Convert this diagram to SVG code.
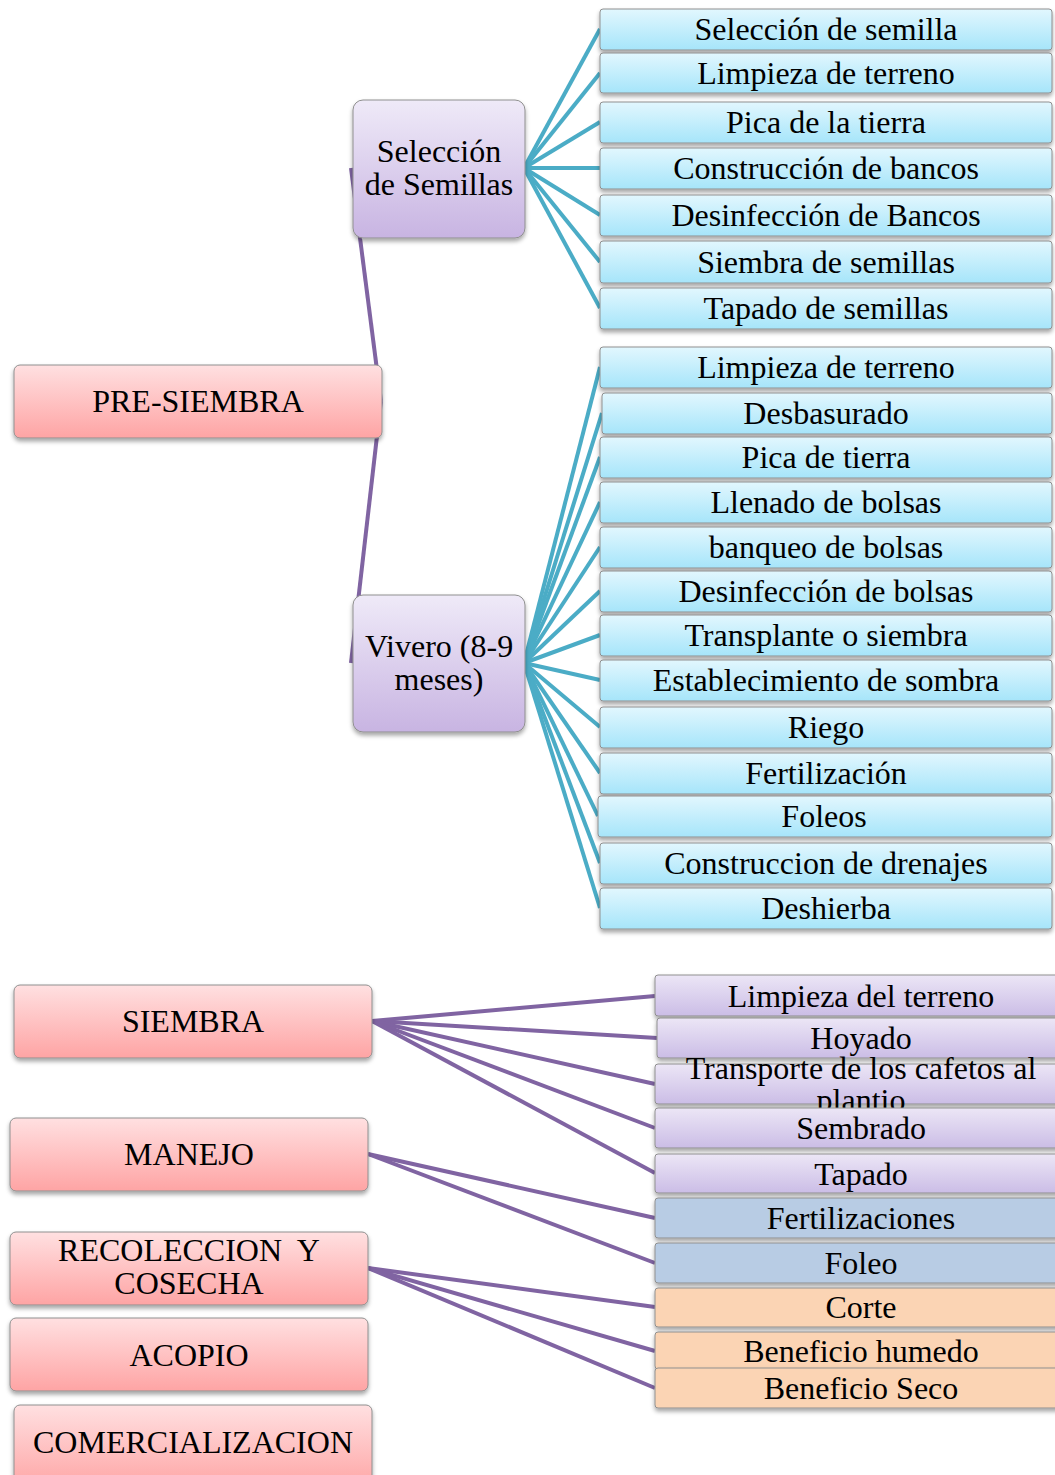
<svg xmlns="http://www.w3.org/2000/svg" width="1055" height="1475" viewBox="0 0 1055 1475">
<defs>
<linearGradient id="gPink" x1="0" y1="0" x2="0" y2="1"><stop offset="0" stop-color="#ffe0e1"/><stop offset="1" stop-color="#fea4a4"/></linearGradient>
<linearGradient id="gPurple" x1="0" y1="0" x2="0" y2="1"><stop offset="0" stop-color="#efeaf8"/><stop offset="1" stop-color="#c8b4e2"/></linearGradient>
<linearGradient id="gBlue" x1="0" y1="0" x2="0" y2="1"><stop offset="0" stop-color="#e2f7fe"/><stop offset="1" stop-color="#a6e5fa"/></linearGradient>
<linearGradient id="gLav" x1="0" y1="0" x2="0" y2="1"><stop offset="0" stop-color="#ece6f6"/><stop offset="1" stop-color="#cbbde6"/></linearGradient>
<filter id="sh" x="-10%" y="-20%" width="120%" height="160%"><feDropShadow dx="0" dy="3" stdDeviation="2" flood-color="#000" flood-opacity="0.35"/></filter>
</defs>
<style>
.t{font-family:'Liberation Serif','Times New Roman',serif;font-size:32px;fill:#000;text-anchor:middle}
.pink{fill:url(#gPink);stroke:#8f8f8f;stroke-width:1;filter:url(#sh)}
.purp{fill:url(#gPurple);stroke:#8f8f8f;stroke-width:1;filter:url(#sh)}
.blue{fill:url(#gBlue);stroke:#8f8f8f;stroke-width:1;filter:url(#sh)}
.lav{fill:url(#gLav);stroke:#8f8f8f;stroke-width:1;filter:url(#sh)}
.gb{fill:#b8cce4;stroke:#8f8f8f;stroke-width:1;filter:url(#sh)}
.pe{fill:#fbd4b4;stroke:#8f8f8f;stroke-width:1;filter:url(#sh)}
.cb{stroke:#4bacc6;stroke-width:4;fill:none}
.cp{stroke:#8064a2;stroke-width:4;fill:none}
</style>
<g id="connectors">
<line class="cp" x1="381" y1="401" x2="351" y2="168"/>
<line class="cp" x1="381" y1="401" x2="351" y2="663"/>
<line class="cb" x1="524" y1="168" x2="600" y2="29"/>
<line class="cb" x1="524" y1="168" x2="600" y2="73"/>
<line class="cb" x1="524" y1="168" x2="600" y2="122"/>
<line class="cb" x1="524" y1="168" x2="600" y2="168"/>
<line class="cb" x1="524" y1="168" x2="600" y2="215"/>
<line class="cb" x1="524" y1="168" x2="600" y2="262"/>
<line class="cb" x1="524" y1="168" x2="600" y2="308"/>
<line class="cb" x1="524" y1="663" x2="600" y2="367"/>
<line class="cb" x1="524" y1="663" x2="602" y2="413"/>
<line class="cb" x1="524" y1="663" x2="600" y2="457"/>
<line class="cb" x1="524" y1="663" x2="600" y2="502"/>
<line class="cb" x1="524" y1="663" x2="600" y2="547"/>
<line class="cb" x1="524" y1="663" x2="600" y2="591"/>
<line class="cb" x1="524" y1="663" x2="600" y2="635"/>
<line class="cb" x1="524" y1="663" x2="600" y2="680"/>
<line class="cb" x1="524" y1="663" x2="600" y2="727"/>
<line class="cb" x1="524" y1="663" x2="600" y2="773"/>
<line class="cb" x1="524" y1="663" x2="598" y2="816"/>
<line class="cb" x1="524" y1="663" x2="600" y2="863"/>
<line class="cb" x1="524" y1="663" x2="600" y2="908"/>
<line class="cp" x1="372" y1="1021" x2="655" y2="996"/>
<line class="cp" x1="372" y1="1021" x2="657" y2="1038"/>
<line class="cp" x1="372" y1="1021" x2="655" y2="1084"/>
<line class="cp" x1="372" y1="1021" x2="655" y2="1128"/>
<line class="cp" x1="372" y1="1021" x2="655" y2="1173"/>
<line class="cp" x1="368" y1="1154" x2="655" y2="1218"/>
<line class="cp" x1="368" y1="1154" x2="655" y2="1263"/>
<line class="cp" x1="368" y1="1268" x2="655" y2="1307"/>
<line class="cp" x1="368" y1="1268" x2="655" y2="1351"/>
<line class="cp" x1="368" y1="1268" x2="655" y2="1388"/>
</g>
<g id="n-presiembra"><rect class="pink" x="14" y="365" width="368" height="73" rx="6"/><text class="t" x="198" y="412">PRE-SIEMBRA</text></g>
<g id="n-seleccion"><rect class="purp" x="353" y="100" width="172" height="138" rx="10"/><text class="t" x="439" y="162">Selección</text><text class="t" x="439" y="195">de Semillas</text></g>
<g id="n-vivero"><rect class="purp" x="353" y="595" width="172" height="137" rx="10"/><text class="t" x="439" y="657">Vivero (8-9</text><text class="t" x="439" y="690">meses)</text></g>
<g id="n-s1"><rect class="blue" x="600" y="9" width="452" height="41" rx="3"/><text class="t" x="826" y="40">Selección de semilla</text></g>
<g id="n-s2"><rect class="blue" x="600" y="53" width="452" height="40" rx="3"/><text class="t" x="826" y="84">Limpieza de terreno</text></g>
<g id="n-s3"><rect class="blue" x="600" y="102" width="452" height="41" rx="3"/><text class="t" x="826" y="133">Pica de la tierra</text></g>
<g id="n-s4"><rect class="blue" x="600" y="148" width="452" height="41" rx="3"/><text class="t" x="826" y="179">Construcción de bancos</text></g>
<g id="n-s5"><rect class="blue" x="600" y="195" width="452" height="41" rx="3"/><text class="t" x="826" y="226">Desinfección de Bancos</text></g>
<g id="n-s6"><rect class="blue" x="600" y="241" width="452" height="42" rx="3"/><text class="t" x="826" y="273">Siembra de semillas</text></g>
<g id="n-s7"><rect class="blue" x="600" y="288" width="452" height="41" rx="3"/><text class="t" x="826" y="319">Tapado de semillas</text></g>
<g id="n-v1"><rect class="blue" x="600" y="347" width="452" height="41" rx="3"/><text class="t" x="826" y="378">Limpieza de terreno</text></g>
<g id="n-v2"><rect class="blue" x="602" y="393" width="450" height="41" rx="3"/><text class="t" x="826" y="424">Desbasurado</text></g>
<g id="n-v3"><rect class="blue" x="600" y="437" width="452" height="41" rx="3"/><text class="t" x="826" y="468">Pica de tierra</text></g>
<g id="n-v4"><rect class="blue" x="600" y="482" width="452" height="41" rx="3"/><text class="t" x="826" y="513">Llenado de bolsas</text></g>
<g id="n-v5"><rect class="blue" x="600" y="527" width="452" height="41" rx="3"/><text class="t" x="826" y="558">banqueo de bolsas</text></g>
<g id="n-v6"><rect class="blue" x="600" y="571" width="452" height="41" rx="3"/><text class="t" x="826" y="602">Desinfección de bolsas</text></g>
<g id="n-v7"><rect class="blue" x="600" y="615" width="452" height="41" rx="3"/><text class="t" x="826" y="646">Transplante o siembra</text></g>
<g id="n-v8"><rect class="blue" x="600" y="660" width="452" height="41" rx="3"/><text class="t" x="826" y="691">Establecimiento de sombra</text></g>
<g id="n-v9"><rect class="blue" x="600" y="707" width="452" height="41" rx="3"/><text class="t" x="826" y="738">Riego</text></g>
<g id="n-v10"><rect class="blue" x="600" y="753" width="452" height="41" rx="3"/><text class="t" x="826" y="784">Fertilización</text></g>
<g id="n-v11"><rect class="blue" x="598" y="796" width="454" height="41" rx="3"/><text class="t" x="824" y="827">Foleos</text></g>
<g id="n-v12"><rect class="blue" x="600" y="843" width="452" height="41" rx="3"/><text class="t" x="826" y="874">Construccion de drenajes</text></g>
<g id="n-v13"><rect class="blue" x="600" y="888" width="452" height="41" rx="3"/><text class="t" x="826" y="919">Deshierba</text></g>
<g id="n-siembra"><rect class="pink" x="14" y="985" width="358" height="73" rx="6"/><text class="t" x="193" y="1032">SIEMBRA</text></g>
<g id="n-manejo"><rect class="pink" x="10" y="1118" width="358" height="73" rx="6"/><text class="t" x="189" y="1165">MANEJO</text></g>
<g id="n-recoleccion"><rect class="pink" x="10" y="1232" width="358" height="73" rx="6"/><text class="t" x="189" y="1261" xml:space="preserve">RECOLECCION  Y</text><text class="t" x="189" y="1294">COSECHA</text></g>
<g id="n-acopio"><rect class="pink" x="10" y="1318" width="358" height="73" rx="6"/><text class="t" x="189" y="1366">ACOPIO</text></g>
<g id="n-comercializacion"><rect class="pink" x="14" y="1405" width="358" height="85" rx="6"/><text class="t" x="193" y="1453">COMERCIALIZACION</text></g>
<g id="n-b1"><rect class="lav" x="655" y="975" width="415" height="41" rx="3"/><text class="t" x="861" y="1007">Limpieza del terreno</text></g>
<g id="n-b2"><rect class="lav" x="657" y="1018" width="413" height="40" rx="3"/><text class="t" x="861" y="1049">Hoyado</text></g>
<g id="n-b3"><rect class="lav" x="655" y="1064" width="415" height="40" rx="3"/><text class="t" x="861" y="1079">Transporte de los cafetos al</text><text class="t" x="861" y="1111">plantio</text></g>
<g id="n-b4"><rect class="lav" x="655" y="1108" width="415" height="40" rx="3"/><text class="t" x="861" y="1139">Sembrado</text></g>
<g id="n-b5"><rect class="lav" x="655" y="1154" width="415" height="39" rx="3"/><text class="t" x="861" y="1185">Tapado</text></g>
<g id="n-b6"><rect class="gb" x="655" y="1198" width="415" height="40" rx="3"/><text class="t" x="861" y="1229">Fertilizaciones</text></g>
<g id="n-b7"><rect class="gb" x="655" y="1243" width="415" height="40" rx="3"/><text class="t" x="861" y="1274">Foleo</text></g>
<g id="n-b8"><rect class="pe" x="655" y="1288" width="415" height="39" rx="3"/><text class="t" x="861" y="1318">Corte</text></g>
<g id="n-b9"><rect class="pe" x="655" y="1332" width="415" height="37" rx="3"/><text class="t" x="861" y="1362">Beneficio humedo</text></g>
<g id="n-b10"><rect class="pe" x="655" y="1368" width="415" height="40" rx="3"/><text class="t" x="861" y="1399">Beneficio Seco</text></g>
</svg>
